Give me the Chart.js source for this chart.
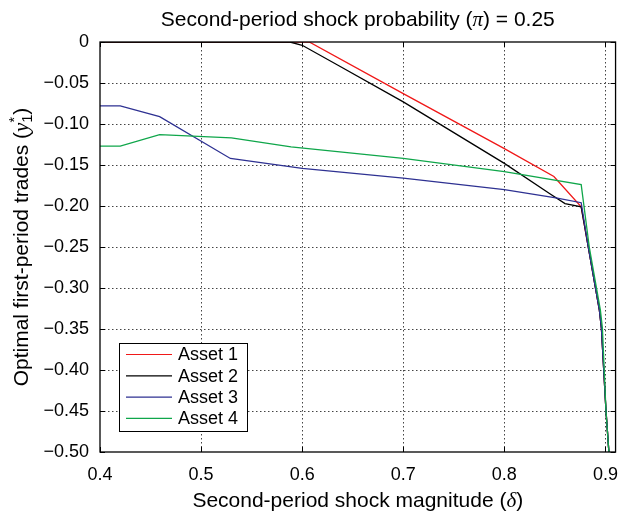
<!DOCTYPE html>
<html lang="en">
<head>
<meta charset="UTF-8">
<title>Optimal first-period trades</title>
<script src="https://cdn.jsdelivr.net/npm/chart.js"></script>
<style>
  html, body { margin: 0; padding: 0; background: #fff; }
  #wrap { width: 622px; height: 515px; }
</style>
</head>
<body>
<div id="wrap"><canvas id="chart"></canvas></div>
<script>
// values
const asset1X = [0.40, 0.607, 0.70, 0.80, 0.849, 0.876, 0.883, 0.894, 0.896, 0.9005, 0.9034];
const asset1Y = [0, 0, -0.063, -0.130, -0.164, -0.201, -0.250, -0.327, -0.349, -0.449, -0.50];
const asset2X = [0.40, 0.588, 0.60, 0.635, 0.70, 0.80, 0.845, 0.86, 0.876, 0.883, 0.894, 0.896, 0.9005, 0.9034];
const asset2Y = [0, 0, -0.004, -0.028, -0.073, -0.148, -0.185, -0.197, -0.201, -0.250, -0.327, -0.349, -0.449, -0.50];
const asset3X = [0.40, 0.42, 0.459, 0.529, 0.60, 0.70, 0.80, 0.851, 0.876, 0.883, 0.894, 0.896, 0.9005, 0.9034];
const asset3Y = [-0.078, -0.078, -0.091, -0.142, -0.154, -0.166, -0.180, -0.190, -0.196, -0.250, -0.327, -0.349, -0.449, -0.50];
const asset4X = [0.40, 0.42, 0.459, 0.53, 0.589, 0.70, 0.80, 0.876, 0.884, 0.895, 0.897, 0.9005, 0.9034];
const asset4Y = [-0.127, -0.127, -0.113, -0.117, -0.128, -0.142, -0.158, -0.174, -0.250, -0.327, -0.349, -0.449, -0.50];

const seriesNames = ['Asset 1', 'Asset 2', 'Asset 3', 'Asset 4'];
const seriesColors = ['#f01818', '#000000', '#2e3192', '#0fa64a'];
const xTicks = [0.4, 0.5, 0.6, 0.7, 0.8, 0.9];
const yTicks = [0, -0.05, -0.10, -0.15, -0.20, -0.25, -0.30, -0.35, -0.40, -0.45, -0.50];

const FONT = '"Liberation Sans", Arial, Helvetica, sans-serif';
const SERIF = '"Liberation Serif", serif';

const toPoints = (xs, ys) => xs.map((x, i) => ({ x: x, y: ys[i] }));
const allX = [asset1X, asset2X, asset3X, asset4X];
const allY = [asset1Y, asset2Y, asset3Y, asset4Y];

function partFont(p, size) {
    const s = p.small ? size * 0.68 : size;
    return (p.italic ? 'italic ' : '') + s + 'px ' + (p.serif ? SERIF : FONT);
}

// draws a run of text pieces (italic / sub / sup) centred at (cx, cy)
function richText(ctx, parts, cx, cy, size, rotate) {
    ctx.save();
    ctx.translate(cx, cy);
    if (rotate) ctx.rotate(-Math.PI / 2);
    let total = 0, last = 0;
    parts.forEach(p => {
        ctx.font = partFont(p, size);
        p.w = ctx.measureText(p.t).width;
        if (p.stack) { total += Math.max(0, p.w - last); } else { total += p.w; }
        last = p.w;
    });
    let x = -total / 2, prevX = x, prevW = 0;
    ctx.fillStyle = '#000';
    ctx.textBaseline = 'middle';
    ctx.textAlign = 'left';
    parts.forEach(p => {
        ctx.font = partFont(p, size);
        const px = p.stack ? prevX : x;
        ctx.fillText(p.t, px, (p.dy || 0) * size);
        if (p.stack) { x = prevX + Math.max(prevW, p.w); } else { prevX = x; prevW = p.w; x += p.w; }
    });
    ctx.restore();
}

const matlabLook = {
    id: 'matlabLook',
    beforeDatasetsDraw(chart) {
        const { ctx, chartArea: a, scales } = chart;
        ctx.save();
        ctx.strokeStyle = '#444';
        ctx.lineWidth = 1;
        ctx.setLineDash([1.5, 2.5]);
        xTicks.forEach(v => {
            const px = Math.round(scales.x.getPixelForValue(v)) + 0.5;
            if (px <= a.left + 1 || px >= a.right - 1) return;
            ctx.beginPath(); ctx.moveTo(px, a.top); ctx.lineTo(px, a.bottom); ctx.stroke();
        });
        yTicks.forEach(v => {
            const py = Math.round(scales.y.getPixelForValue(v)) + 0.5;
            if (py <= a.top + 1 || py >= a.bottom - 1) return;
            ctx.beginPath(); ctx.moveTo(a.left, py); ctx.lineTo(a.right, py); ctx.stroke();
        });
        ctx.restore();
    },
    afterDraw(chart) {
        const { ctx, chartArea: a, scales } = chart;
        ctx.save();
        // frame and inward tick marks
        ctx.strokeStyle = '#000';
        ctx.lineWidth = 1.3;
        ctx.strokeRect(a.left, a.top, a.right - a.left, a.bottom - a.top);
        ctx.lineWidth = 1;
        const t = 5;
        xTicks.forEach(v => {
            const px = Math.round(scales.x.getPixelForValue(v)) + 0.5;
            ctx.beginPath();
            ctx.moveTo(px, a.bottom); ctx.lineTo(px, a.bottom - t);
            ctx.moveTo(px, a.top); ctx.lineTo(px, a.top + t);
            ctx.stroke();
        });
        yTicks.forEach(v => {
            const py = Math.round(scales.y.getPixelForValue(v)) + 0.5;
            ctx.beginPath();
            ctx.moveTo(a.left, py); ctx.lineTo(a.left + t, py);
            ctx.moveTo(a.right, py); ctx.lineTo(a.right - t, py);
            ctx.stroke();
        });

        // legend box inside the plot
        const lx = 119, ly = 343, lw = 128, lh = 88;
        ctx.fillStyle = '#fff';
        ctx.fillRect(lx, ly, lw, lh);
        ctx.strokeStyle = '#000';
        ctx.lineWidth = 1;
        ctx.strokeRect(lx + 0.5, ly + 0.5, lw, lh);
        ctx.font = '18px ' + FONT;
        ctx.textBaseline = 'middle';
        ctx.textAlign = 'left';
        chart.data.datasets.forEach((ds, i) => {
            const y = ly + 11.5 + i * 21.3;
            ctx.strokeStyle = ds.borderColor;
            ctx.lineWidth = 1.2;
            ctx.beginPath(); ctx.moveTo(lx + 7, y); ctx.lineTo(lx + 53, y); ctx.stroke();
            ctx.fillStyle = '#000';
            ctx.fillText(ds.label, lx + 59, y + 1);
        });
        ctx.restore();

        const mid = (a.left + a.right) / 2;
        richText(ctx, [
            { t: 'Second-period shock probability (' },
            { t: 'π', italic: true, serif: true },
            { t: ') = 0.25' }
        ], mid, 20, 21, false);
        richText(ctx, [
            { t: 'Second-period shock magnitude (' },
            { t: 'δ', italic: true, serif: true },
            { t: ')' }
        ], mid, 501, 21, false);
        richText(ctx, [
            { t: 'Optimal first-period trades (' },
            { t: 'y', italic: true, serif: true },
            { t: '1', small: true, dy: 0.3 },
            { t: '*', small: true, dy: -0.32, stack: true },
            { t: ')' }
        ], 22, (a.top + a.bottom) / 2, 21, true);
    }
};

new Chart(document.getElementById('chart'), {
    type: 'line',
    data: {
        datasets: seriesNames.map((name, i) => ({
            label: name,
            data: toPoints(allX[i], allY[i]),
            borderColor: seriesColors[i],
            backgroundColor: seriesColors[i],
            borderWidth: 1.3,
            pointRadius: 0,
            tension: 0,
            fill: false,
            order: 4 - i
        }))
    },
    options: {
        responsive: true,
        maintainAspectRatio: false,
        animation: false,
        layout: { padding: { top: 42, right: 2, left: 0, bottom: 0 } },
        plugins: {
            legend: { display: false },
            tooltip: { enabled: false }
        },
        scales: {
            x: {
                type: 'linear',
                min: 0.4,
                max: 0.91,
                grid: { display: false },
                border: { display: false },
                afterBuildTicks: (s) => { s.ticks = xTicks.map(v => ({ value: v })); },
                afterFit: (s) => { s.height = 63; },
                ticks: {
                    color: '#000',
                    padding: 4,
                    maxRotation: 0,
                    font: { family: FONT, size: 18 },
                    callback: (v) => v.toFixed(1)
                }
            },
            y: {
                type: 'linear',
                min: -0.5,
                max: 0,
                grid: { display: false },
                border: { display: false },
                afterBuildTicks: (s) => { s.ticks = yTicks.map(v => ({ value: v })); },
                afterFit: (s) => { s.width = 100; },
                ticks: {
                    color: '#000',
                    padding: 3,
                    font: { family: FONT, size: 18 },
                    callback: (v) => v === 0 ? '0' : '\u2212' + Math.abs(v).toFixed(2)
                }
            }
        }
    },
    plugins: [matlabLook]
});
</script>
</body>
</html>
